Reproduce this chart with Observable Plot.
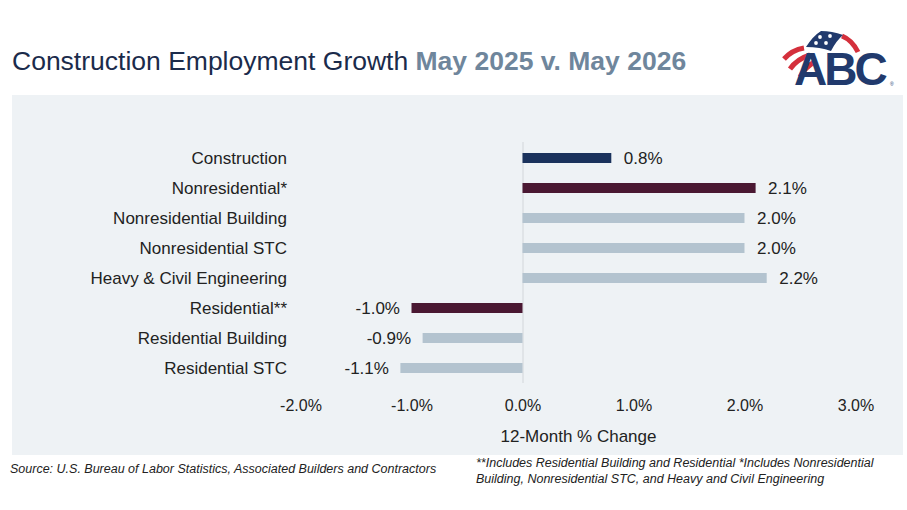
<!DOCTYPE html>
<html><head><meta charset="utf-8">
<script src="https://cdn.jsdelivr.net/npm/d3@7"></script>
<script src="https://cdn.jsdelivr.net/npm/@observablehq/plot@0.6"></script>
<style>
body{margin:0;width:907px;height:510px;background:#fff;font-family:"Liberation Sans",Arial,sans-serif;position:relative;overflow:hidden}
#title{position:absolute;left:12px;top:46px;font-size:26.5px;color:#1b2b4b;white-space:nowrap;line-height:30px}
#title b{color:#6f869c}
#panel{position:absolute;left:12px;top:95px;width:891px;height:360px;background:#eef2f5}
#source{position:absolute;left:10px;top:462px;font-size:12.5px;font-style:italic;color:#222;white-space:nowrap}
#note{position:absolute;left:476px;top:455px;font-size:12.5px;font-style:italic;line-height:16px;color:#222;white-space:nowrap}
#logo{position:absolute;left:776px;top:20px}
</style></head><body>
<div id="title">Construction Employment Growth <b>May 2025 v. May 2026</b></div>
<svg id="logo" width="130" height="74" viewBox="0 0 130 74">
  <path d="M28,28 Q16,30 8,39" fill="none" stroke="#d4303c" stroke-width="5"/>
  <path d="M34,35 Q21,39 14,49" fill="none" stroke="#d4303c" stroke-width="5"/>
  <path d="M40,41 Q29,47 24,57" fill="none" stroke="#d4303c" stroke-width="5"/>
  <path d="M66,16 Q76,20 82,32" fill="none" stroke="#d4303c" stroke-width="5"/>
  <path d="M30,27 Q37,16 45,11 Q56,11 67,15 Q60,21 55,31 Q44,27 30,27 Z" fill="#213a6d"/>
  <circle cx="44" cy="17" r="1.9" fill="#fff"/><circle cx="54" cy="16" r="1.9" fill="#fff"/>
  <circle cx="40" cy="23" r="1.9" fill="#fff"/><circle cx="50" cy="23" r="1.9" fill="#fff"/>
  <text x="18" y="65" font-family="Liberation Sans, Arial, sans-serif" font-weight="bold" font-size="46" letter-spacing="-3" fill="#213a6d">ABC</text>
  <text x="114" y="66" font-family="Liberation Sans, Arial, sans-serif" font-size="5" fill="#213a6d">®</text>
</svg>
<div id="panel"></div>
<div id="source">Source: U.S. Bureau of Labor Statistics, Associated Builders and Contractors</div>
<div id="note">**Includes Residential Building and Residential *Includes Nonresidential<br>Building, Nonresidential STC, and Heavy and Civil Engineering</div>
<script>
const categories = ["Construction","Nonresidential*","Nonresidential Building","Nonresidential STC","Heavy & Civil Engineering","Residential**","Residential Building","Residential STC"];
const values = [0.8, 2.1, 2.0, 2.0, 2.2, -1.0, -0.9, -1.1];
const groups = ["total","sector","sub","sub","sub","sector","sub","sub"];
const xTicks = [-2, -1, 0, 1, 2, 3];
const groupNames = ["total","sector","sub"];
const groupColors = ["#1a325c","#4a1832","#b3c3cf"];

const data = categories.map((c, i) => ({category: c, value: values[i], group: groups[i]}));
const fmt = d => d.toFixed(1) + "%";

const chart = Plot.plot({
  width: 891, height: 360,
  marginLeft: 288.5, marginRight: 47.5, marginTop: 47, marginBottom: 72,
  style: {background: "transparent", fontFamily: "Liberation Sans, Arial, sans-serif", color: "#222"},
  x: {domain: [-2, 3], ticks: xTicks, tickFormat: fmt, label: null},
  y: {domain: categories, paddingInner: 0.67, paddingOuter: 0.335, label: null},
  color: {domain: groupNames, range: groupColors},
  marks: [
    Plot.ruleX([0], {stroke: "#d2d6da", strokeWidth: 1}),
    Plot.barX(data, {x: "value", y: "category", fill: "group"}),
    Plot.text(data.filter(d => d.value >= 0), {x: "value", y: "category", text: d => fmt(d.value), dx: 12, textAnchor: "start", fontSize: 17, fill: "#222"}),
    Plot.text(data.filter(d => d.value < 0), {x: "value", y: "category", text: d => fmt(d.value), dx: -12, textAnchor: "end", fontSize: 17, fill: "#222"}),
    Plot.axisX({ticks: xTicks, tickFormat: fmt, tickSize: 0, tickPadding: 16, fontSize: 16, label: null}),
    Plot.axisY({tickSize: 0, tickPadding: 14, fontSize: 17, label: null}),
    Plot.text(["12-Month % Change"], {frameAnchor: "bottom", dy: 58, fontSize: 17, fill: "#222"})
  ]
});
document.getElementById("panel").appendChild(chart);
</script>
</body></html>
